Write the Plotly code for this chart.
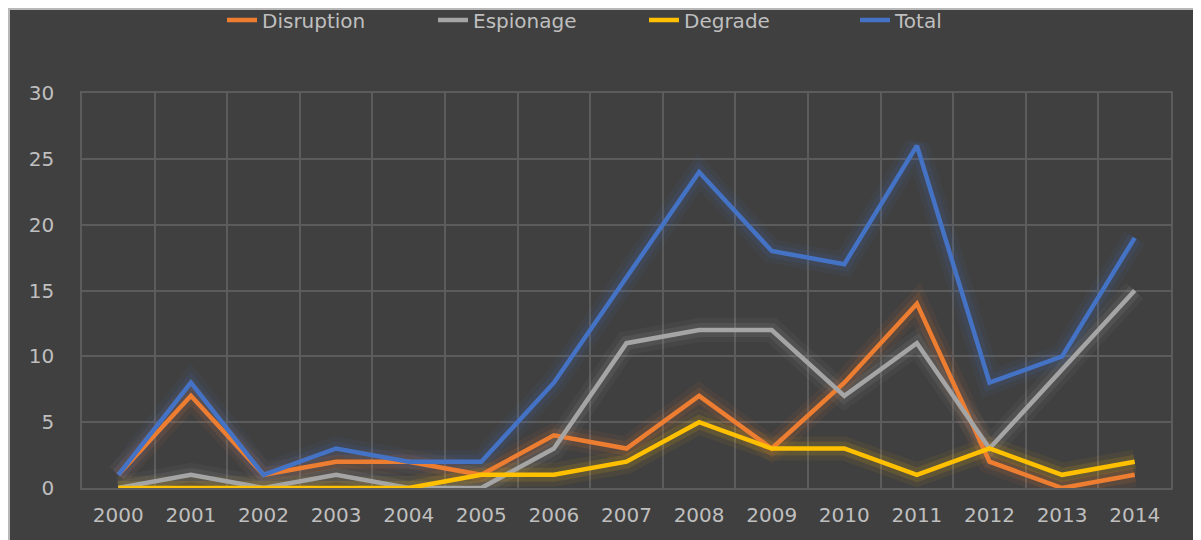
import plotly.graph_objects as go

years = [2000, 2001, 2002, 2003, 2004, 2005, 2006, 2007, 2008, 2009, 2010, 2011, 2012, 2013, 2014]
disruption = [1, 7, 1, 2, 2, 1, 4, 3, 7, 3, 8, 14, 2, 0, 1]
espionage = [0, 1, 0, 1, 0, 0, 3, 11, 12, 12, 7, 11, 3, 9, 15]
degrade = [0, 0, 0, 0, 0, 1, 1, 2, 5, 3, 3, 1, 3, 1, 2]
total = [1, 8, 1, 3, 2, 2, 8, 16, 24, 18, 17, 26, 8, 10, 19]
y_ticks = [0, 5, 10, 15, 20, 25, 30]

series = [
    ("Disruption", disruption, (237, 125, 49)),
    ("Espionage", espionage, (165, 165, 165)),
    ("Degrade", degrade, (255, 192, 0)),
    ("Total", total, (68, 114, 196)),
]

fig = go.Figure()

# glow layers
for name, vals, (r, g, b) in series:
    for w, a in [(24, 0.06), (14, 0.12)]:
        fig.add_trace(go.Scatter(
            x=years, y=vals, mode="lines", showlegend=False, hoverinfo="skip",
            line=dict(color=f"rgba({r},{g},{b},{a})", width=w),
        ))

for name, vals, (r, g, b) in series:
    fig.add_trace(go.Scatter(
        x=years, y=vals, mode="lines", name=name,
        line=dict(color=f"rgb({r},{g},{b})", width=4.5),
    ))

grid = "#5c5c5c"
font_col = "#bfbfbf"
OFF = 8  # page body margin
L, T = 82 - OFF, 93 - OFF
W, H = 1201 - OFF, 540 - OFF
pw, ph = 1089, 395
R, B = W - L - pw, H - T - ph

def px_x(px):  # page px -> paper
    return (px - OFF - L) / pw

def px_y(py):
    return (H - B - (py - OFF)) / ph

fig.update_layout(
    width=W, height=H,
    margin=dict(l=L, r=R, t=T, b=B, autoexpand=False),
    paper_bgcolor="#404040",
    plot_bgcolor="#404040",
    font=dict(family="DejaVu Sans", size=20, color=font_col),
    legend=dict(
        orientation="h", x=px_x(644), xanchor="center", y=px_y(20), yanchor="middle",
        font=dict(size=20, color=font_col), bgcolor="rgba(0,0,0,0)",
        entrywidth=166, entrywidthmode="pixels", tracegroupgap=0,
    ),
    xaxis=dict(
        range=[1999.5, 2014.5], tickmode="array", tickvals=years,
        ticktext=[str(y) for y in years],
        showgrid=False, zeroline=False,
        ticks="outside", ticklen=8, tickcolor="rgba(0,0,0,0)",
        showline=True, mirror=True, linecolor=grid, linewidth=1.5,
        minor=dict(tickmode="array", tickvals=[y + 0.5 for y in years[:-1]],
                   showgrid=True, gridcolor=grid, gridwidth=1.5, ticks=""),
        tickfont=dict(size=20, color=font_col),
    ),
    yaxis=dict(
        range=[0, 30], tickmode="array", tickvals=y_ticks,
        showgrid=True, gridcolor=grid, gridwidth=1.5, zeroline=False,
        ticks="outside", ticklen=22, tickcolor="rgba(0,0,0,0)",
        showline=True, mirror=True, linecolor=grid, linewidth=1.5,
        tickfont=dict(size=20, color=font_col),
    ),
    shapes=[
        dict(type="line", xref="paper", yref="paper", layer="above",
             x0=px_x(OFF), x1=px_x(1201 + 5), y0=px_y(OFF + 1), y1=px_y(OFF + 1),
             line=dict(color="#b8b8b8", width=2)),
        dict(type="line", xref="paper", yref="paper", layer="above",
             x0=px_x(OFF + 1), x1=px_x(OFF + 1), y0=px_y(OFF), y1=px_y(545),
             line=dict(color="#b8b8b8", width=2)),
    ],
)

fig.write_html("out.html")
